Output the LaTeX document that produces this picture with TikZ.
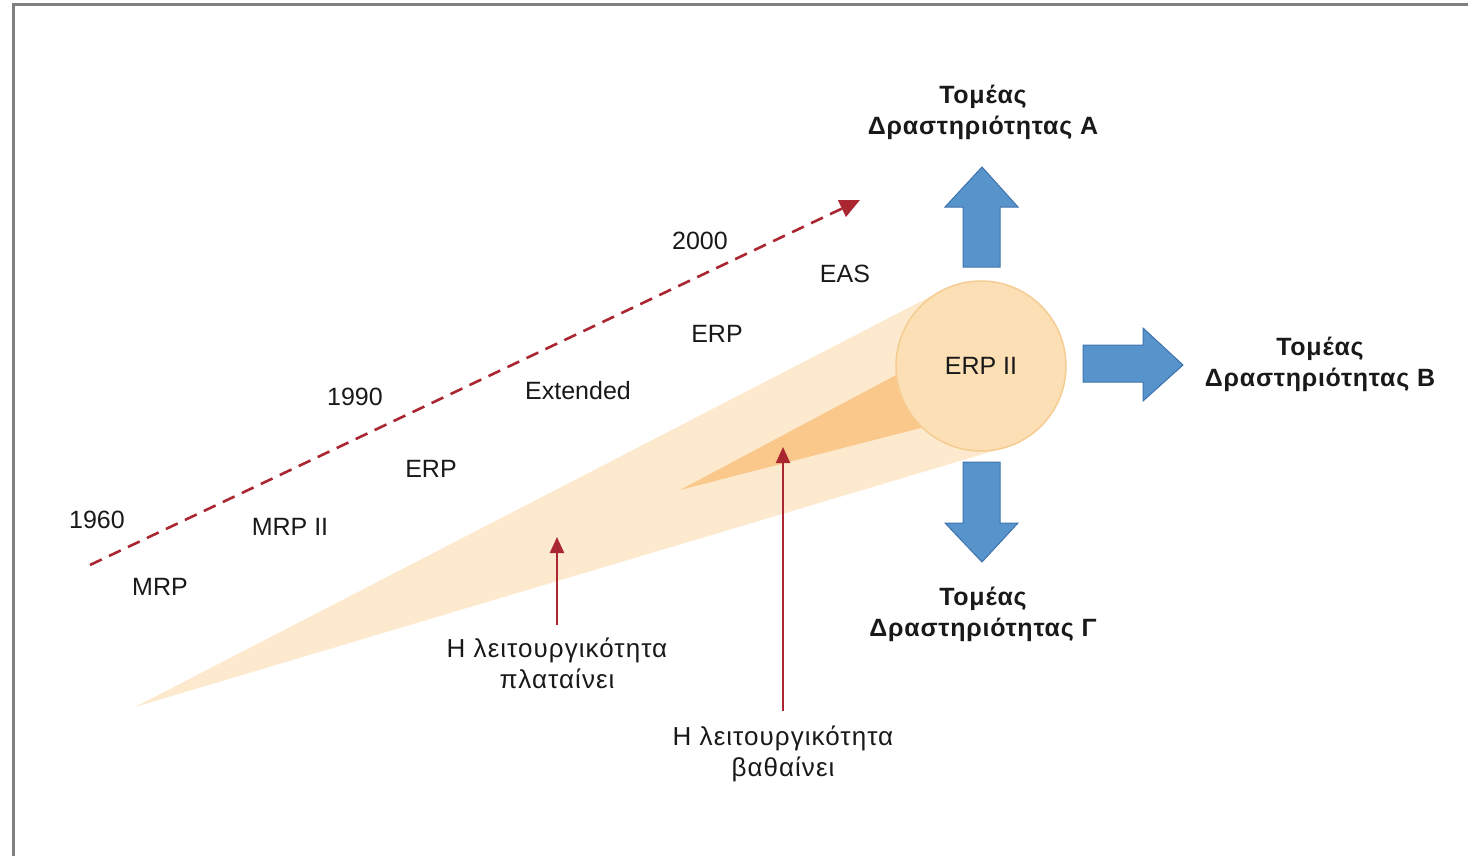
\documentclass[tikz,border=0pt]{standalone}
\usepackage{fontspec}
\setmainfont{Liberation Sans}
\newfontfamily\greektext[LetterSpace=4]{Liberation Sans}
\newfontfamily\greekhead[LetterSpace=3]{Liberation Sans}
\usetikzlibrary{arrows.meta,calc}
\definecolor{framegray}{RGB}{128,128,128}
\definecolor{timered}{RGB}{170,38,48}
\definecolor{conelight}{RGB}{253,234,206}
\definecolor{conedeep}{RGB}{250,200,138}
\definecolor{ballfill}{RGB}{252,223,180}
\definecolor{balledge}{RGB}{245,204,146}
\definecolor{arrowblue}{RGB}{88,148,204}
\definecolor{arrowedge}{RGB}{62,115,172}
\definecolor{txt}{RGB}{25,25,25}
\pgfdeclarelayer{background}
\pgfsetlayers{background,main}
\begin{document}
\begin{tikzpicture}[x=1pt,y=-1pt,
  lbl/.style={font=\fontsize{25}{31}\selectfont, text=txt, inner sep=0pt, align=center},
  glbl/.style={font=\greektext\fontsize{26}{31}\selectfont, text=txt, inner sep=0pt, align=center},
  ttl/.style={font=\greekhead\fontsize{25}{31}\selectfont\bfseries, text=txt, inner sep=0pt, align=center},
  timeline/.style={draw=timered, line width=2.6pt, dash pattern=on 13pt off 8pt,
    -{Triangle[length=20pt,width=18pt]}},
  growth/.style={draw=timered, line width=2.2pt, -{Triangle[length=16pt,width=14pt]}},
  blockarrow/.style={fill=arrowblue, draw=arrowedge, line width=1pt, line join=miter}]
\useasboundingbox (0,0) rectangle (1468,856);

% frame (top and left edges)
\draw[framegray, line width=3pt] (13,856) -- (13,5) -- (1468,5);

% ERP II disc
\node[circle, minimum size=170pt, inner sep=0pt, outer sep=0pt,
      fill=ballfill, draw=balledge, line width=1.5pt] (erp2) at (981,366) {};
\node[lbl] (erp2t) at (erp2.center) {ERP II};

% cones behind the disc
\coordinate (apex) at (135,707);
\coordinate (deepapex) at (680,490);
\begin{pgfonlayer}{background}
  \fill[conelight] (apex)
     -- (tangent cs:node=erp2,point={(apex)},solution=2)
     -- (erp2.center)
     -- (tangent cs:node=erp2,point={(apex)},solution=1) -- cycle;
  \fill[conedeep] (deepapex) -- (930,357) -- (940,423) -- cycle;
\end{pgfonlayer}

% timeline
\coordinate (tstart) at (90,565);
\coordinate (tend) at (860,200);
\draw[timeline] (tstart) -- (tend);

\node[lbl] (y1960) at (97,520) {1960};
\node[lbl] (y1990) at (355,397) {1990};
\node[lbl] (y2000) at (700,241) {2000};

\node[lbl] (mrp) at (160,587) {MRP};
\node[lbl] (mrp2) at (290,527) {MRP II};
\node[lbl] (erp) at (431,469) {ERP};
\node[lbl] (ext) at (578,391) {Extended};
\node[lbl] (erpb) at (717,334) {ERP};
\node[lbl] (eas) at (845,274) {EAS};

% outward block arrows
\draw[blockarrow] (963,267) -- (963,207) -- (945,207) -- (982,167) -- (1018,207)
   -- (1000,207) -- (1000,267) -- cycle;
\draw[blockarrow] (1083,345) -- (1143,345) -- (1143,328) -- (1183,365) -- (1143,401)
   -- (1143,382) -- (1083,382) -- cycle;
\draw[blockarrow] (963,462) -- (963,523) -- (945,523) -- (982,562) -- (1018,523)
   -- (1000,523) -- (1000,462) -- cycle;

\node[ttl] (secA) at (983,112) {Τομέας\\Δραστηριότητας Α};
\node[ttl] (secB) at (1320,364) {Τομέας\\Δραστηριότητας Β};
\node[ttl] (secC) at (983,614) {Τομέας\\Δραστηριότητας Γ};

% functionality labels with pointers
\node[glbl] (wide) at (557,663) {Η λειτουργικότητα\\πλαταίνει};
\node[glbl] (deep) at (783,754) {Η λειτουργικότητα\\βαθαίνει};
\coordinate (widetip) at (557,537);
\coordinate (deeptip) at (783,447);
\draw[growth] ($(wide.north)+(0,-12)$) -- (widetip);
\draw[growth] ($(deep.north)+(0,-15)$) -- (deeptip);
\end{tikzpicture}
\end{document}
